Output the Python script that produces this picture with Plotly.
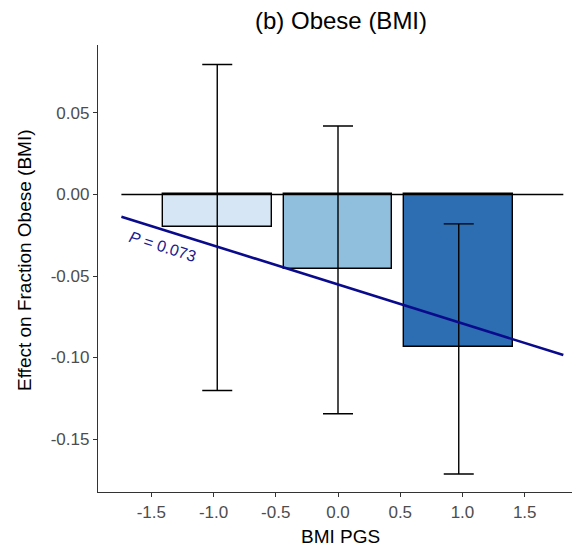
import plotly.graph_objects as go

# Data
pgs_groups = [-0.97, 0.0, 0.97]
effects = [-0.0202, -0.0460, -0.0937]
ci_upper = [0.0797, 0.0420, -0.0180]
ci_lower = [-0.1202, -0.1345, -0.1715]
bar_colors = ["#D6E6F4", "#8FBFDD", "#2D6DB2"]

line_x = [-1.74, 1.81]
line_y = [-0.0136, -0.0985]
zero_x = [-1.74, 1.81]
zero_y = [0.0, 0.0]

x_ticks = [-1.5, -1.0, -0.5, 0.0, 0.5, 1.0, 1.5]
x_tick_labels = ["-1.5", "-1.0", "-0.5", "0.0", "0.5", "1.0", "1.5"]
y_ticks = [0.05, 0.0, -0.05, -0.10, -0.15]
y_tick_labels = ["0.05", "0.00", "-0.05", "-0.10", "-0.15"]

p_label = "<i>P</i> = 0.073"
p_pos = (-1.41, -0.0322)

FONT = "Liberation Sans, Arial, sans-serif"

# page has an 8px body margin; lay out in page pixel coordinates
OFF = 8
W, H = 580 - OFF, 552 - OFF
PL, PR, PT, PB = 98, 578, 45, 492  # plot area in page px
ML, MR, MT, MB = PL - OFF, W - (PR - OFF), PT - OFF, H - (PB - OFF)
PW, PH = W - ML - MR, H - MT - MB


def px_to_paper_x(px):
    return (px - PL) / PW


def px_to_paper_y(py):
    return (PB - py) / PH


err_plus = [u - e for u, e in zip(ci_upper, effects)]
err_minus = [e - l for e, l in zip(effects, ci_lower)]

fig = go.Figure()
fig.add_trace(go.Scatter(
    x=zero_x, y=zero_y, mode="lines",
    line=dict(color="black", width=1.5), showlegend=False, hoverinfo="skip"))
fig.add_trace(go.Bar(
    x=pgs_groups, y=effects, width=0.875,
    marker=dict(color=bar_colors, line=dict(color="black", width=1.4)),
    error_y=dict(type="data", symmetric=False, array=err_plus, arrayminus=err_minus,
                 color="black", thickness=1.4, width=15),
    showlegend=False))
fig.add_trace(go.Scatter(
    x=line_x, y=line_y, mode="lines",
    line=dict(color="#0A0A8C", width=2.6), showlegend=False, hoverinfo="skip"))

fig.add_annotation(x=p_pos[0], y=p_pos[1], xref="x", yref="y", text=p_label,
                   showarrow=False, textangle=17.4,
                   font=dict(family=FONT, size=16, color="#1A1A8C"))

fig.add_annotation(x=px_to_paper_x(341), y=px_to_paper_y(20), xref="paper", yref="paper",
                   text="(b) Obese (BMI)", showarrow=False, yanchor="middle",
                   xanchor="center",
                   font=dict(family=FONT, size=24, color="black"))
fig.add_annotation(x=px_to_paper_x(340), y=px_to_paper_y(536), xref="paper", yref="paper",
                   text="BMI PGS", showarrow=False, yanchor="middle",
                   font=dict(family=FONT, size=19, color="black"))
fig.add_annotation(x=px_to_paper_x(24), y=px_to_paper_y(260), xref="paper", yref="paper",
                   text="Effect on Fraction Obese (BMI)", showarrow=False,
                   textangle=-90, xanchor="center", yanchor="middle",
                   font=dict(family=FONT, size=19, color="black"))

fig.update_layout(
    width=W, height=H,
    margin=dict(l=ML, r=MR, t=MT, b=MB),
    plot_bgcolor="white", paper_bgcolor="white",
    bargap=0,
    font=dict(family=FONT),
)
fig.update_xaxes(
    range=[-1.928, 1.928], tickvals=x_ticks, ticktext=x_tick_labels,
    showgrid=False, zeroline=False, showline=True, linecolor="#333333", linewidth=1.4,
    ticks="outside", ticklen=4, tickwidth=1.2, tickcolor="#333333",
    tickfont=dict(family=FONT, size=17, color="#4D4D4D"))
fig.update_yaxes(
    range=[-0.1825, 0.0917], tickvals=y_ticks, ticktext=y_tick_labels,
    showgrid=False, zeroline=False, showline=True, linecolor="#333333", linewidth=1.4,
    ticks="outside", ticklen=4, tickwidth=1.2, tickcolor="#333333",
    tickfont=dict(family=FONT, size=17, color="#4D4D4D"))

fig.write_html("out.html")
